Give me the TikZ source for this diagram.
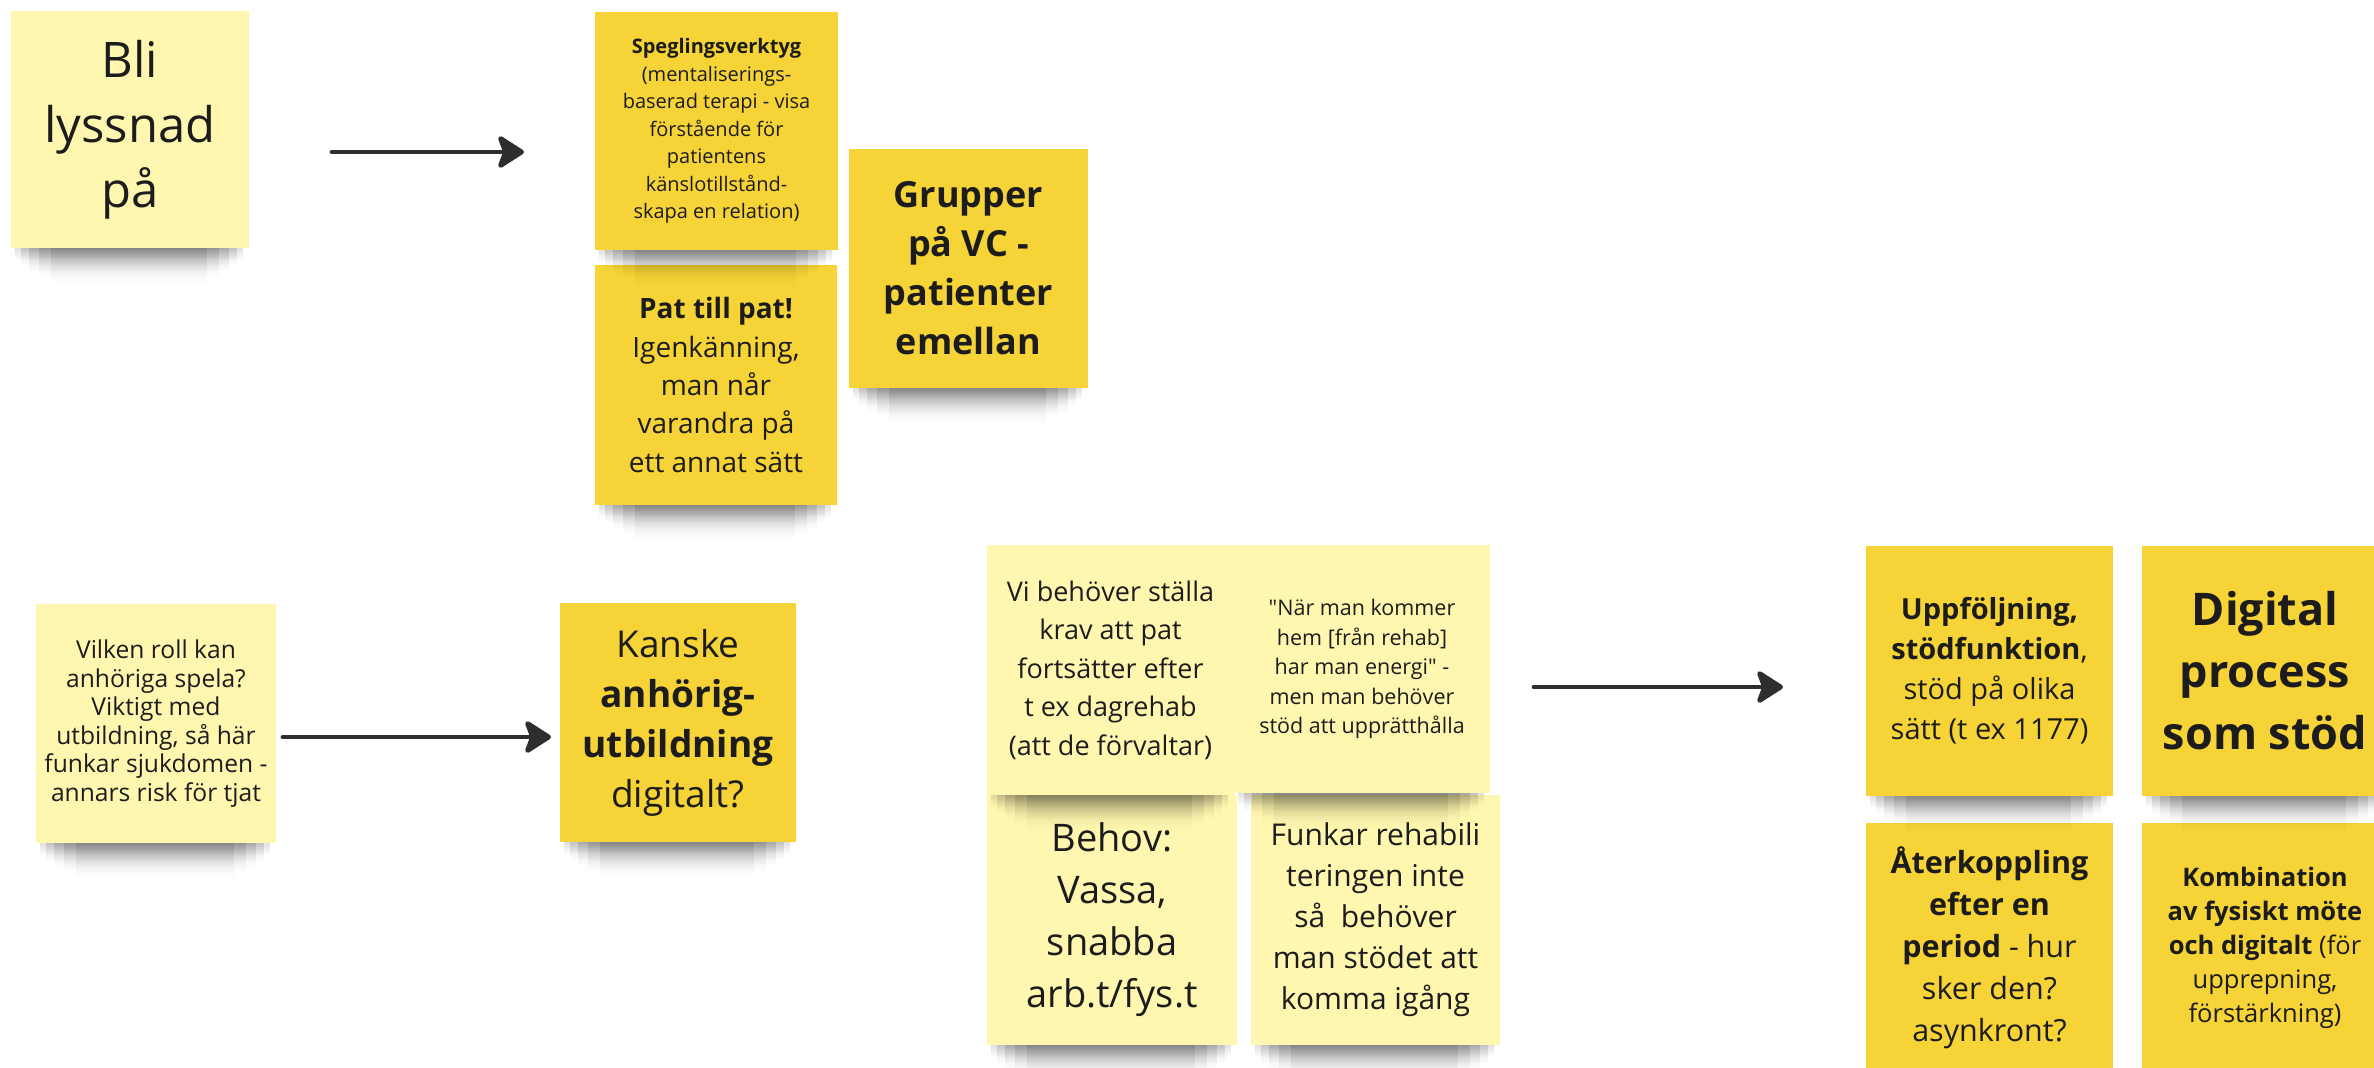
\documentclass[tikz,border=0pt]{standalone}
\usepackage{fontspec}
\setmainfont{Open Sans}[Ligatures=TeXOff]
\usetikzlibrary{arrows.meta,fadings}

\definecolor{lightnote}{HTML}{FFF7B0}
\definecolor{darknote}{HTML}{F6D336}
\definecolor{ink}{HTML}{1C1C1C}
\definecolor{arrowc}{HTML}{2E2E2E}

\tikzfading[name=shadowfade, top color=transparent!0, bottom color=transparent!100]

\newcommand\noteshadow[3]{%
  \fill[black, opacity=0.16, path fading=shadowfade] ({#1+4},{#3-4}) rectangle ({#2-6},{#3+12});
  \fill[black, opacity=0.16, path fading=shadowfade] ({#1+10},{#3-4}) rectangle ({#2-12},{#3+18});
  \fill[black, opacity=0.15, path fading=shadowfade] ({#1+18},{#3-4}) rectangle ({#2-20},{#3+24});
  \fill[black, opacity=0.13, path fading=shadowfade] ({#1+28},{#3-4}) rectangle ({#2-30},{#3+30});
  \fill[black, opacity=0.11, path fading=shadowfade] ({#1+40},{#3-4}) rectangle ({#2-42},{#3+36});
}

\tikzset{
  note/.style={draw=none, inner sep=0pt, align=center, text=ink},
  lightn/.style={note, fill=lightnote},
  darkn/.style={note, fill=darknote},
  conn/.style={draw=arrowc, line width=0.48mm, line cap=round,
    -{Stealth[length=3mm, width=3.8mm, inset=0.7mm, round]}},
}

\begin{document}
\begin{tikzpicture}[x=0.1mm, y=-0.1mm]
\useasboundingbox (0,0) rectangle (2374,1067);
\clip (0,0) rectangle (2374,1067);
\fill[white] (0,0) rectangle (2374,1067);

% ---- Row 1 ----
\noteshadow{11}{249}{248}
\node[lightn, minimum width=23.8mm, minimum height=23.7mm,
  font={\fontsize{13.94pt}{18.49pt}\selectfont}] (n1) at (130,129.5)
  {Bli\\lyssnad\\på};

\noteshadow{595}{837}{505}
\node[darkn, minimum width=24.2mm, minimum height=24.0mm,
  font={\fontsize{7.97pt}{10.95pt}\selectfont}] (n3) at (716,385)
  {\textbf{Pat till pat!}\\Igenkänning,\\man når\\varandra på\\ett annat sätt};

\noteshadow{595}{838}{250}
\node[darkn, minimum width=24.3mm, minimum height=23.8mm,
  font={\fontsize{5.69pt}{7.82pt}\selectfont}] (n2) at (716.5,131)
  {\textbf{Speglingsverktyg}\\(mentaliserings-\\baserad terapi - visa\\förstående för\\patientens\\känslotillstånd-\\skapa en relation)};

\noteshadow{849}{1088}{388}
\node[darkn, minimum width=23.9mm, minimum height=23.9mm,
  font={\bfseries\fontsize{10.24pt}{13.94pt}\selectfont}] (n4) at (968.5,268.5)
  {Grupper\\på VC -\\patienter\\emellan};

\coordinate (a1s) at (332,152);
\coordinate (a1e) at (524,152);
\draw[conn] (a1s) -- (a1e);

% ---- Row 2 left ----
\noteshadow{36}{276}{843}
\node[lightn, minimum width=24.0mm, minimum height=23.9mm,
  font={\fontsize{7.0pt}{8.11pt}\selectfont}] (n5) at (156,723.5)
  {Vilken roll kan\\anhöriga spela?\\Viktigt med\\utbildning, så här\\funkar sjukdomen -\\annars risk för tjat};

\noteshadow{560}{796}{842}
\node[darkn, minimum width=23.6mm, minimum height=23.9mm,
  font={\fontsize{10.53pt}{14.23pt}\selectfont}] (n6) at (678,722.5)
  {Kanske\\\textbf{anhörig-}\\\textbf{utbildning}\\digitalt?};

\coordinate (a2s) at (283,737);
\coordinate (a2e) at (551,737);
\draw[conn] (a2s) -- (a2e);

% ---- Middle group ----
\noteshadow{987}{1237}{1045}
\node[lightn, minimum width=25.0mm, minimum height=25.0mm,
  font={\fontsize{10.81pt}{14.80pt}\selectfont}] (n9) at (1112,920)
  {Behov:\\Vassa,\\snabba\\arb.t/fys.t};

\noteshadow{1251}{1500}{1045}
\node[lightn, minimum width=24.9mm, minimum height=25.0mm,
  font={\fontsize{8.54pt}{11.67pt}\selectfont}] (n10) at (1375.5,920)
  {Funkar rehabili\\teringen inte\\så\ \ behöver\\man stödet att\\komma igång};

\noteshadow{987}{1234}{795}
\node[lightn, minimum width=24.7mm, minimum height=25.0mm,
  font={\fontsize{7.68pt}{10.95pt}\selectfont}] (n7) at (1110.5,670)
  {Vi behöver ställa\\krav att pat\\fortsätter efter\\t ex dagrehab\\(att de förvaltar)};

\noteshadow{1234}{1490}{793}
\node[lightn, minimum width=25.6mm, minimum height=24.8mm,
  font={\fontsize{6.12pt}{8.39pt}\selectfont}] (n8) at (1362,669)
  {"När man kommer\\hem [från rehab]\\har man energi" -\\men man behöver\\stöd att upprätthålla};

\coordinate (a3s) at (1534,687);
\coordinate (a3e) at (1783,687);
\draw[conn] (a3s) -- (a3e);

% ---- Right group ----
\noteshadow{1866}{2113}{1073}
\node[darkn, minimum width=24.7mm, minimum height=25.0mm,
  font={\fontsize{8.68pt}{11.95pt}\selectfont}] (n13) at (1989.5,948)
  {\textbf{Återkoppling}\\\textbf{efter en}\\\textbf{period} - hur\\sker den?\\asynkront?};

\noteshadow{2142}{2388}{1073}
\node[darkn, minimum width=24.6mm, minimum height=25.0mm,
  font={\fontsize{7.26pt}{9.67pt}\selectfont}] (n14) at (2265,948)
  {\textbf{Kombination}\\\textbf{av fysiskt möte}\\\textbf{och digitalt} (för\\upprepning,\\förstärkning)};

\noteshadow{1866}{2113}{796}
\node[darkn, minimum width=24.7mm, minimum height=25.0mm,
  font={\fontsize{8.25pt}{11.38pt}\selectfont}] (n11) at (1989.5,671)
  {\textbf{Uppföljning,}\\\textbf{stödfunktion},\\stöd på olika\\sätt (t ex 1177)};

\noteshadow{2142}{2388}{796}
\node[darkn, minimum width=24.6mm, minimum height=25.0mm,
  font={\bfseries\fontsize{12.80pt}{17.64pt}\selectfont}] (n12) at (2265,671)
  {Digital\\process\\som stöd};
\end{tikzpicture}
\end{document}
